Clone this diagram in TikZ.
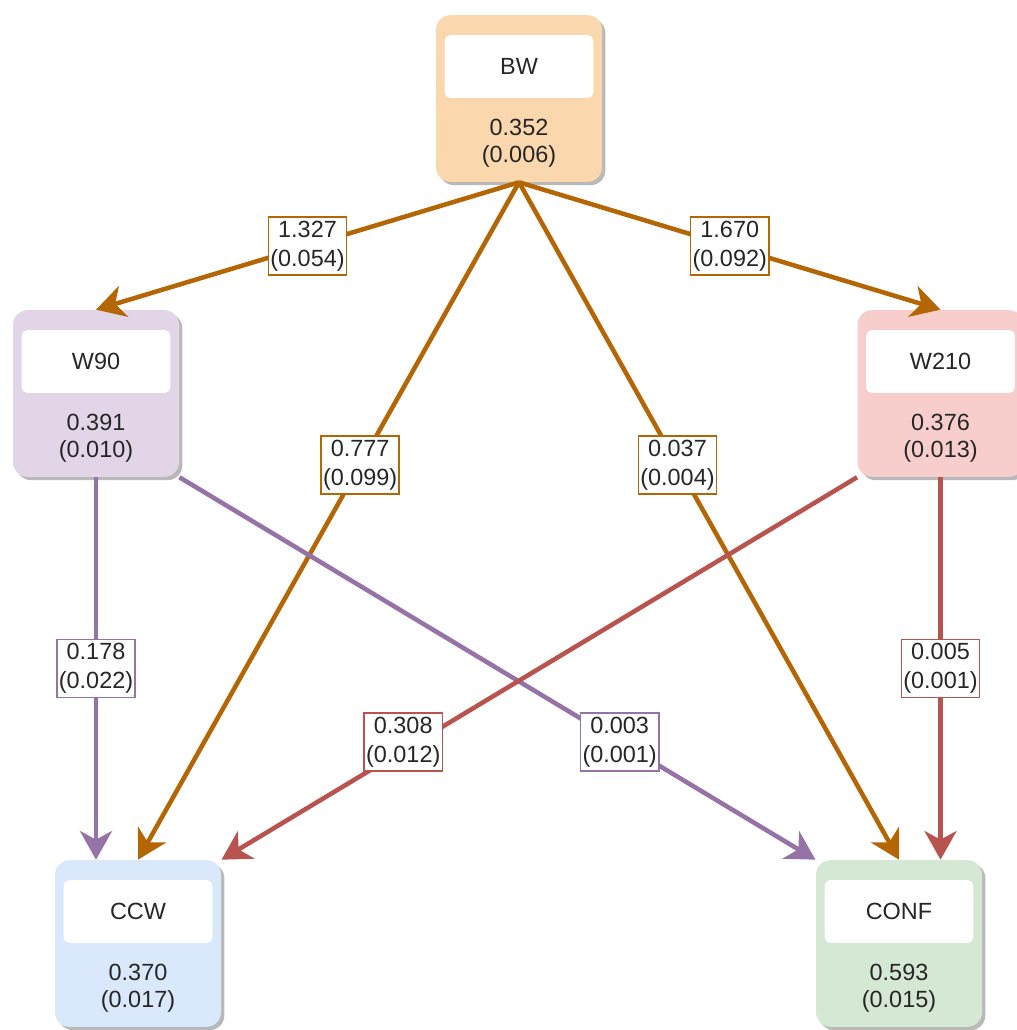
\documentclass[tikz,border=0pt]{standalone}
\usepackage{fontspec}
\setmainfont{Liberation Sans}
\usepackage{tikz}
\usetikzlibrary{positioning,shadows,arrows.meta}

\definecolor{bwfill}{HTML}{FAD7AC}
\definecolor{wnfill}{HTML}{E1D5E7}
\definecolor{wtfill}{HTML}{F8CECC}
\definecolor{ccwfill}{HTML}{DAE8FC}
\definecolor{conffill}{HTML}{D5E8D4}
\definecolor{bwline}{HTML}{B46504}
\definecolor{wnline}{HTML}{9673A6}
\definecolor{wtline}{HTML}{B85450}

\tikzset{
	state/.style={rounded corners=2.2mm, minimum width=24.9mm, minimum height=25mm, inner sep=0pt,
		drop shadow={shadow xshift=0.5mm, shadow yshift=-0.5mm, fill=black!50, opacity=0.55}},
	title/.style={fill=white, rounded corners=0.8mm, minimum width=22.3mm, minimum height=9.4mm, inner sep=0pt,
		font=\fontsize{10}{12}\selectfont, text=black!85},
	value/.style={align=center, inner sep=0pt, font=\fontsize{10}{11.5}\selectfont, text=black!85},
	edge/.style={line width=0.68mm, -{Stealth[length=4.3mm, width=4.8mm, inset=1.3mm]}},
	weight/.style={fill=white, draw, line width=0.25mm, align=center, inner sep=0.3mm, minimum width=11.5mm,
		minimum height=8.7mm, font=\fontsize{10}{12.4}\selectfont, text=black!85}
}

\begin{document}
\begin{tikzpicture}[x=1.5mm, y=1.5mm]
				\useasboundingbox (0,0) rectangle (101.7,103);
				\node[state, fill=bwfill] (bw) at (51.9, 93.15) {};
				\node[state, fill=wnfill] (w90) at (9.6, 63.65) {};
				\node[state, fill=wtfill] (w210) at (94.05, 63.65) {};
				\node[state, fill=ccwfill] (ccw) at (13.8, 8.65) {};
				\node[state, fill=conffill] (conf) at (89.9, 8.65) {};
				\node[title, below=3mm of bw.north] (bwt) {BW};
				\node[title, below=3mm of w90.north] (w90t) {W90};
				\node[title, below=3mm of w210.north] (w210t) {W210};
				\node[title, below=3mm of ccw.north] (ccwt) {CCW};
				\node[title, below=3mm of conf.north] (conft) {CONF};
				\node[value] (bwv) at ([yshift=-6.75mm]bw.center) {0.352\\(0.006)};
				\node[value] (w90v) at ([yshift=-6.75mm]w90.center) {0.391\\(0.010)};
				\node[value] (w210v) at ([yshift=-6.75mm]w210.center) {0.376\\(0.013)};
				\node[value] (ccwv) at ([yshift=-6.75mm]ccw.center) {0.370\\(0.017)};
				\node[value] (confv) at ([yshift=-6.75mm]conf.center) {0.593\\(0.015)};
				% edges from BW
				\draw[edge, bwline] (bw.south) -- node[weight] {1.327\\(0.054)} (w90.north);
				\draw[edge, bwline] (bw.south) -- node[weight] {1.670\\(0.092)} (w210.north);
				\draw[edge, bwline] (bw.south) -- node[weight, pos=0.417] {0.777\\(0.099)} (ccw.north);
				\draw[edge, bwline] (bw.south) -- node[weight, pos=0.417] {0.037\\(0.004)} (conf.north);
				% edges from W90
				\draw[edge, wnline] (w90.south) -- node[weight] {0.178\\(0.022)} (w90.south |- ccw.north);
				\draw[edge, wnline] (w90.south east) -- node[weight, pos=0.692] {0.003\\(0.001)} (conf.north west);
				% edges from W210
				\draw[edge, wtline] (w210.south west) -- node[weight, pos=0.714, yshift=1.2mm] {0.308\\(0.012)} (ccw.north east);
				\draw[edge, wtline] (w210.south) -- node[weight] {0.005\\(0.001)} (w210.south |- conf.north);
				\end{tikzpicture}
\end{document}
